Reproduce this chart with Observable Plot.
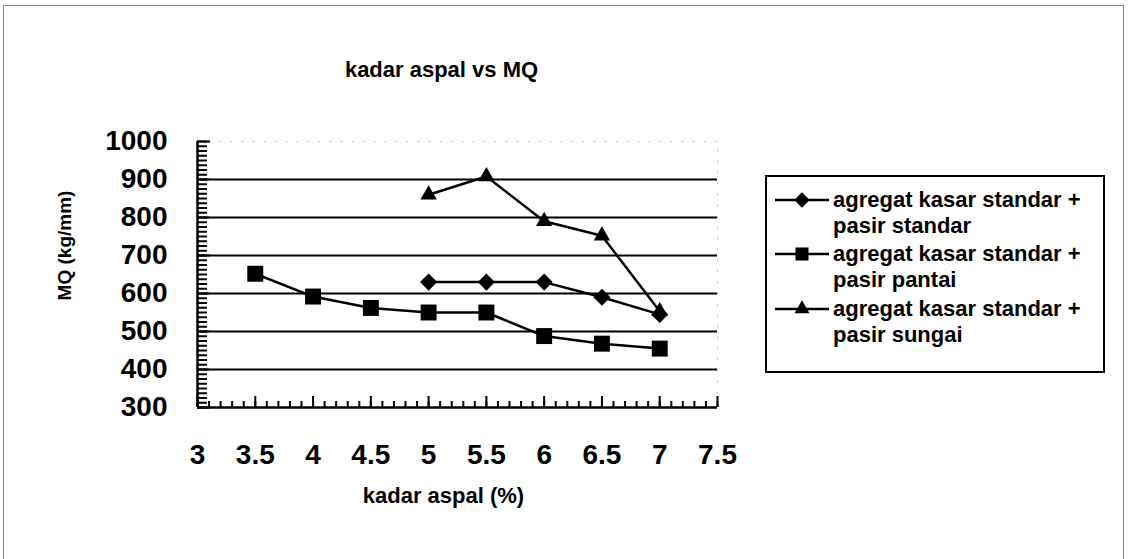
<!DOCTYPE html>
<html>
<head>
<meta charset="utf-8">
<script src="https://cdn.jsdelivr.net/npm/d3@7"></script>
<script src="https://cdn.jsdelivr.net/npm/@observablehq/plot@0.6"></script>
<style>
  html, body { margin: 0; padding: 0; background: #fff; }
  #wrap { position: relative; width: 1128px; height: 559px; overflow: hidden; background: #fff;
          font-family: "Liberation Sans", Arial, Helvetica, sans-serif; }
  #border { position: absolute; left: 3px; top: 5px; width: 1121px; height: 600px; border: 1px solid #888; box-sizing: border-box; }
  #legend { position: absolute; left: 765px; top: 175px; width: 340px; height: 198px;
            border: 2px solid #000; box-sizing: border-box; background: #fff; }
  .lg-text { position: absolute; left: 66px; font-size: 22px; font-weight: bold; line-height: 26px; white-space: nowrap; color: #000; }
  .lg-sym { position: absolute; left: 8px; }
</style>
</head>
<body>
<div id="wrap">
  <div id="chart"></div>
  <div id="border"></div>
  <div id="legend"></div>
</div>
<script>
// ---- data ----
const kadarAspal = [3.5, 4, 4.5, 5, 5.5, 6, 6.5, 7];
const mqPasirStandar = [null, null, null, 630, 630, 630, 590, 545];
const mqPasirPantai  = [652, 592, 562, 550, 550, 488, 468, 455];
const mqPasirSungai  = [null, null, null, 860, 908, 790, 752, 553];
const seriesNames = [
  "agregat kasar standar + pasir standar",
  "agregat kasar standar + pasir pantai",
  "agregat kasar standar + pasir sungai"
];
const seriesSymbols = ["diamond2", "square", "triangle2"];
const xTickLabels = [3, 3.5, 4, 4.5, 5, 5.5, 6, 6.5, 7, 7.5];
const yTickLabels = [300, 400, 500, 600, 700, 800, 900, 1000];
const yGridLines = [400, 500, 600, 700, 800, 900];
const chartTitle = "kadar aspal vs MQ";
const xTitle = "kadar aspal (%)";
const yTitle = "MQ (kg/mm)";

// ---- build rows ----
const allSeries = [mqPasirStandar, mqPasirPantai, mqPasirSungai];
const rows = [];
allSeries.forEach((vals, s) => {
  vals.forEach((v, i) => {
    if (v != null) rows.push({kadar: kadarAspal[i], mq: v, series: seriesNames[s], symbol: seriesSymbols[s]});
  });
});

const xMinor = d3.range(30, 76).map(i => i / 10);
const yMinor = d3.range(300, 1000.01, 12.5);
const bold = "bold";
const symR = {diamond2: 7.7, square: 9, triangle2: 7.8};

const chart = Plot.plot({
  width: 1128,
  height: 559,
  marginLeft: 197,
  marginRight: 411,
  marginTop: 141,
  marginBottom: 152,
  style: {fontFamily: '"Liberation Sans", Arial, Helvetica, sans-serif', color: "#000", background: "transparent", overflow: "visible"},
  x: {domain: [3, 7.5]},
  y: {domain: [300, 1000]},
  marks: [
    Plot.frame({stroke: "#bbb", strokeDasharray: "2,9", strokeWidth: 1}),
    Plot.ruleY(yGridLines, {stroke: "#000", strokeWidth: 2}),
    // y axis labels
    Plot.axisY(yTickLabels, {tickSize: 0, tickPadding: 30, fontSize: 28, fontWeight: bold, label: null, tickFormat: d => String(d)}),
    // y ticks (inside)
    Plot.axisY(yMinor, {tickSize: -10, strokeWidth: 2, tickFormat: () => "", label: null}),
    Plot.axisY(yTickLabels, {tickSize: -13, strokeWidth: 2, tickFormat: () => "", label: null}),
    // x axis labels
    Plot.axisX(xTickLabels, {tickSize: 0, tickPadding: 37, fontSize: 28, fontWeight: bold, label: null, tickFormat: d => String(d)}),
    Plot.axisX(xMinor, {tickSize: -6, strokeWidth: 2, tickFormat: () => "", label: null}),
    Plot.axisX(xTickLabels, {tickSize: -11, strokeWidth: 2, tickFormat: () => "", label: null}),
    Plot.ruleX([3], {stroke: "#000", strokeWidth: 2.5}),
    Plot.ruleY([300], {stroke: "#000", strokeWidth: 2.5}),
    // series
    Plot.line(rows, {x: "kadar", y: "mq", z: "series", stroke: "#000", strokeWidth: 2.5}),
    ...seriesSymbols.map((sym, s) =>
      Plot.dot(rows.filter(d => d.series === seriesNames[s]), {x: "kadar", y: "mq", symbol: sym, r: symR[sym], fill: "#000", stroke: "none"})
    ),
    // titles
    Plot.text([chartTitle], {text: d => d, frameAnchor: "top", dx: -16, dy: -80, fontSize: 22, fontWeight: bold, fill: "#000"}),
    Plot.text([xTitle], {text: d => d, frameAnchor: "bottom", dx: -14, dy: 95, fontSize: 22, fontWeight: bold, fill: "#000"}),
    Plot.text([yTitle], {text: d => d, frameAnchor: "left", textAnchor: "middle", dx: -133, dy: -29, rotate: -90, fontSize: 19, fontWeight: bold, fill: "#000"})
  ]
});
document.getElementById("chart").appendChild(chart);

// ---- legend ----
const legend = d3.select("#legend");
const rowTops = [10, 64, 119];
seriesNames.forEach((name, s) => {
  const idx = name.indexOf("+") + 1;
  const l1 = name.slice(0, idx), l2 = name.slice(idx).trim();
  const top = rowTops[s];
  legend.append("div").attr("class", "lg-text").style("top", top + "px").text(l1);
  legend.append("div").attr("class", "lg-text").style("top", (top + 26) + "px").text(l2);
  const svg = legend.append("svg").attr("class", "lg-sym")
    .style("top", (top + 13 - 10) + "px").attr("width", 56).attr("height", 20);
  svg.append("line").attr("x1", 0).attr("x2", 54).attr("y1", 10).attr("y2", 10)
    .attr("stroke", "#000").attr("stroke-width", 2.5);
  const symMap = {diamond2: d3.symbolDiamond2, square: d3.symbolSquare, triangle2: d3.symbolTriangle2};
  const sz = {diamond2: 150, square: 170, triangle2: 160};
  svg.append("path").attr("transform", "translate(27,10)")
    .attr("d", d3.symbol(symMap[seriesSymbols[s]], sz[seriesSymbols[s]])()).attr("fill", "#000");
});
</script>
</body>
</html>
